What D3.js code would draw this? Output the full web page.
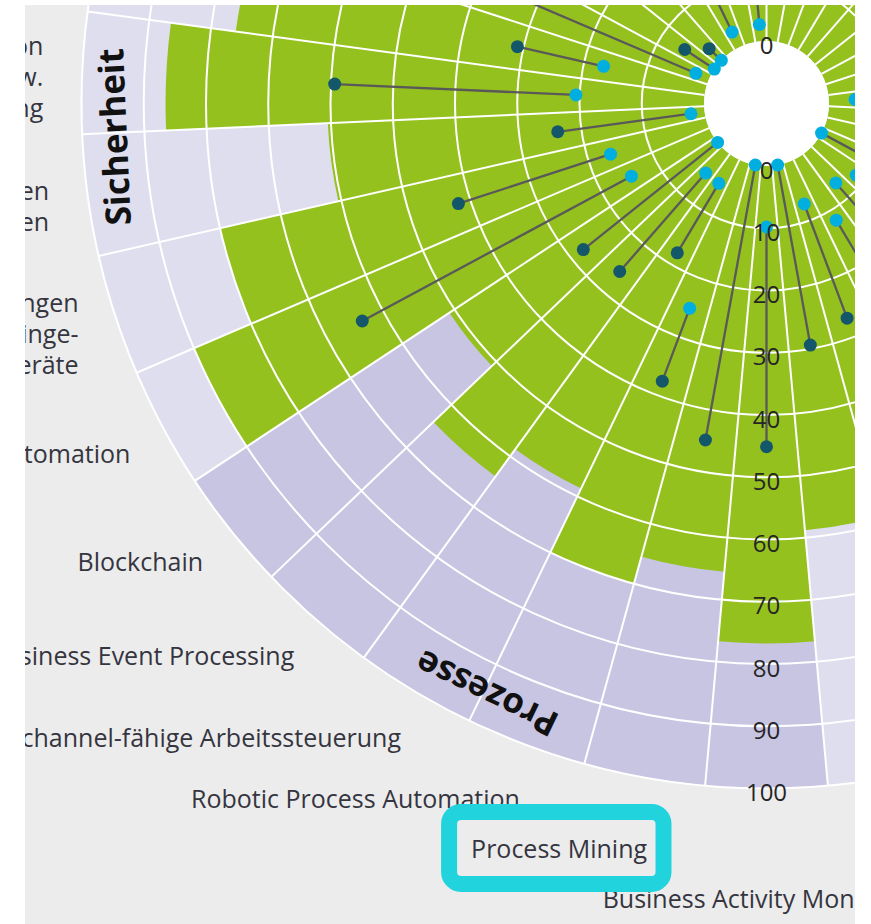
<!DOCTYPE html>
<html><head><meta charset="utf-8">
<script src="https://cdn.jsdelivr.net/npm/d3@7"></script>
<style>html,body{margin:0;padding:0;background:#fff;}svg{display:block;}</style>
</head><body>
<svg id="chart" width="871" height="924"></svg>
<script>
// ---------- data ----------
const sectorNames = [
  "Edge Computing","5G-Campusnetze","Serverless Computing","Container-Orchestrierung","Low-Code-Plattformen",
  "Data Lakes","Data Mesh","Echtzeit-Analytik","Maschinelles Lernen","Sprachassistenten","Chatbots",
  "API-Management","Microservices","Digitale Zwillinge","Augmented Reality","Cloud-native Anwendungen","Quantencomputing",
  "Business Activity Monitoring","Process Mining","Robotic Process Automation","Multichannel-fähige Arbeitssteuerung",
  "Business Event Processing","Blockchain",
  "Security Automation","Absicherung von Anwendungen\nfür Internet-der-Dinge-\nGeräte","Dezentrale Identitäten\nin Organisationen",
  "Verhaltensbasierte Intrusion\nDetection bzw.\nBetrugserkennung","Zero Trust Architektur","Security Analytics",
  "Hybrid Cloud","Multi-Cloud-Management","Infrastructure as Code","Observability","Green IT","Mainframe-Modernisierung"
];
const categoryNames = ["Infrastruktur","Daten & KI","Anwendungen","Prozesse","Sicherheit","Plattformen"];
const categorySizes = [5, 6, 6, 6, 6, 6];
const greenValues = [55,62,48,70,66,58,73,61,54,67,63,57,69,52,60,66,58.8,76.7,65.5,70,58.6,64,51,90,80,60.5,86.5,76,70,66,72,59,63,70,68];
const lowValues  = [null,null,null,null,null,null,null,null,4.2,null,null,0,8.4,6.9,11.8,7.2,0,9.8,0,25.1,4.9,4.8,0,14.6,16.3,2.2,20.6,16.8,2.3,0,0,null,2.7,null,2.7];
const highValues = [null,null,null,null,null,null,null,null,30,null,null,25,30,30,35,26.8,29.4,45.1,44.9,37.6,17.9,25.8,27.6,63.7,42.0,23.8,59.4,31.0,45,5.7,2.7,null,25,null,20];
const tickValues = [0,10,20,30,40,50,60,70,80,90,100];
const highlighted = "Process Mining";

// ---------- styles ----------
const W = 871, H = 924, cx = 766.5, cy = 103.5, rInner = 62.5, rOuter = 685;
const view = {x0: 25, y0: 5, x1: 855, y1: 924};
const C = {bg:"#ececec", green:"#95c11f", lavLight:"#dfdeef", lavDark:"#c8c5e3", lightBlue:"#00aee0",
           darkBlue:"#14576b", stem:"#595959", grid:"#ffffff", text:"#35353f", hl:"#21d3dc"};
const labelFont = "'Open Sans', 'Noto Sans', sans-serif";

const svg = d3.select("#chart");
svg.append("rect").attr("width", W).attr("height", H).attr("fill", "#fff");
svg.append("defs").append("clipPath").attr("id", "clip")
  .append("rect").attr("x", view.x0).attr("y", view.y0).attr("width", view.x1 - view.x0).attr("height", view.y1 - view.y0);
const root = svg.append("g").attr("clip-path", "url(#clip)");
root.append("rect").attr("x", view.x0).attr("y", view.y0).attr("width", view.x1 - view.x0).attr("height", view.y1 - view.y0).attr("fill", C.bg);
const g = root.append("g").attr("transform", `translate(${cx},${cy})`);

const idx = sectorNames.map((d, i) => i);
const x = d3.scaleBand().domain(idx).range([0, 2 * Math.PI]).padding(0);
const bw = x.bandwidth();
const y = d3.scaleLinear().domain([0, 100]).range([rInner, rOuter]);

function removeIfOutside(node) {
  const b = node.getBoundingClientRect();
  if (b.right < view.x0 || b.left > view.x1 || b.bottom < view.y0 || b.top > view.y1) node.remove();
}

// category of each sector
const sectorCat = [];
categorySizes.forEach((n, c) => { for (let k = 0; k < n; k++) sectorCat.push(c); });
const catColor = c => (c % 2 === 0 ? C.lavLight : C.lavDark);

// background sectors
g.append("g").selectAll("path").data(idx).join("path")
  .attr("d", i => d3.arc()({innerRadius: y(0), outerRadius: y(100), startAngle: x(i), endAngle: x(i) + bw}))
  .attr("fill", i => catColor(sectorCat[i]));
// green bars
g.append("g").selectAll("path").data(idx).join("path")
  .attr("d", i => d3.arc()({innerRadius: y(0), outerRadius: y(greenValues[i]), startAngle: x(i), endAngle: x(i) + bw}))
  .attr("fill", C.green);
// grid rings
g.append("g").selectAll("circle").data(tickValues.filter(t => t > 0)).join("circle")
  .attr("r", t => y(t)).attr("fill", "none").attr("stroke", C.grid).attr("stroke-width", 2);
// radial grid lines
g.append("g").selectAll("line").data(idx).join("line")
  .each(function(i) {
    const p0 = d3.pointRadial(x(i), y(0)), p1 = d3.pointRadial(x(i), y(100));
    d3.select(this).attr("x1", p0[0]).attr("y1", p0[1]).attr("x2", p1[0]).attr("y2", p1[1]);
  })
  .attr("stroke", C.grid).attr("stroke-width", 2);
// center hole
g.append("circle").attr("r", y(0)).attr("fill", "#fff");

// dumbbells
const db = idx.filter(i => lowValues[i] !== null && highValues[i] !== null);
const dg = g.append("g");
db.forEach(i => {
  const a = x(i) + bw / 2;
  const p0 = d3.pointRadial(a, y(lowValues[i])), p1 = d3.pointRadial(a, y(highValues[i]));
  dg.append("line").attr("x1", p0[0]).attr("y1", p0[1]).attr("x2", p1[0]).attr("y2", p1[1])
    .attr("stroke", C.stem).attr("stroke-width", 2.3);
});
db.forEach(i => {
  const a = x(i) + bw / 2;
  const p1 = d3.pointRadial(a, y(highValues[i]));
  dg.append("circle").attr("cx", p1[0]).attr("cy", p1[1]).attr("r", 6.5).attr("fill", C.darkBlue);
  const p0 = d3.pointRadial(a, y(lowValues[i]));
  dg.append("circle").attr("cx", p0[0]).attr("cy", p0[1]).attr("r", 6.5).attr("fill", C.lightBlue);
});

// axis labels (vertical through centre)
const ax = g.append("g").attr("font-family", labelFont).attr("font-size", 24).attr("fill", "#262626")
  .attr("text-anchor", "middle").attr("dominant-baseline", "central");
tickValues.forEach(t => {
  ax.append("text").attr("x", 0).attr("y", y(t) + 3).text(t);
  ax.append("text").attr("x", 0).attr("y", -y(t) + 3).text(t);
});

// category labels
let start = 0;
const cg = g.append("g").attr("font-family", labelFont).attr("font-weight", 700).attr("font-size", 35)
  .attr("fill", "#111").attr("text-anchor", "middle").attr("dominant-baseline", "central");
categoryNames.forEach((name, c) => {
  const a0 = x(start), a1 = x(start + categorySizes[c] - 1) + bw;
  const mid = (a0 + a1) / 2;
  const p = d3.pointRadial(mid, y(95));
  cg.append("text").attr("transform", `translate(${p[0]},${p[1]}) rotate(${mid * 180 / Math.PI})`)
    .attr("x", -4).text(name);
  start += categorySizes[c];
});

// sector labels
const Rx = 736, Ry = 726, pad = 12, lineH = 31, gap = 19;
const labels = idx.map(i => {
  const a = x(i) + bw / 2, s = Math.sin(a), co = Math.cos(a);
  const lines = sectorNames[i].split("\n");
  const side = Math.abs(s) < 0.05 ? 0 : (s < 0 ? -1 : 1);
  const bottomBias = 13 * Math.max(0, (-co - 0.75) / 0.25);
  return {i, lines, side, bottom: co < 0, x: Rx * s - side * pad, y: -Ry * co + 5 + bottomBias, h: lines.length * lineH};
});
function distribute(list) {
  list.sort((p, q) => p.y - q.y);
  for (let k = 1; k < list.length; k++) {
    const min = list[k - 1].y + (list[k - 1].h + list[k].h) / 2 + gap;
    if (list[k].y < min) list[k].y = min;
  }
}
distribute(labels.filter(L => L.side < 0 || (L.side === 0 && L.bottom)));
distribute(labels.filter(L => L.side > 0 || (L.side === 0 && !L.bottom)));
const lg = root.append("g").attr("font-family", labelFont).attr("font-size", 25).attr("fill", C.text);
let hlNode = null;
labels.forEach(L => {
  const tx = cx + L.x;
  const t = lg.append("text").attr("x", tx).attr("y", cy + L.y - (L.lines.length - 1) / 2 * lineH)
    .attr("text-anchor", L.side < 0 ? "end" : L.side > 0 ? "start" : "middle")
    .attr("dominant-baseline", "central");
  L.lines.forEach((ln, k) => t.append("tspan").attr("x", tx).attr("dy", k === 0 ? 0 : lineH)
    .attr("dominant-baseline", "central").text(ln));
  if (sectorNames[L.i] === highlighted) hlNode = t.node();
});

// highlight box around selected label
if (hlNode) {
  const b = hlNode.getBBox();
  const mY = b.y + b.height / 2;
  root.append("rect")
    .attr("x", b.x - 22).attr("y", mY - 36).attr("width", b.width + 38).attr("height", 72)
    .attr("rx", 12).attr("fill", "none").attr("stroke", C.hl).attr("stroke-width", 16);
}

// texts lying entirely outside the visible window are not kept
svg.selectAll("text").each(function() { removeIfOutside(this); });
</script>
</body></html>
